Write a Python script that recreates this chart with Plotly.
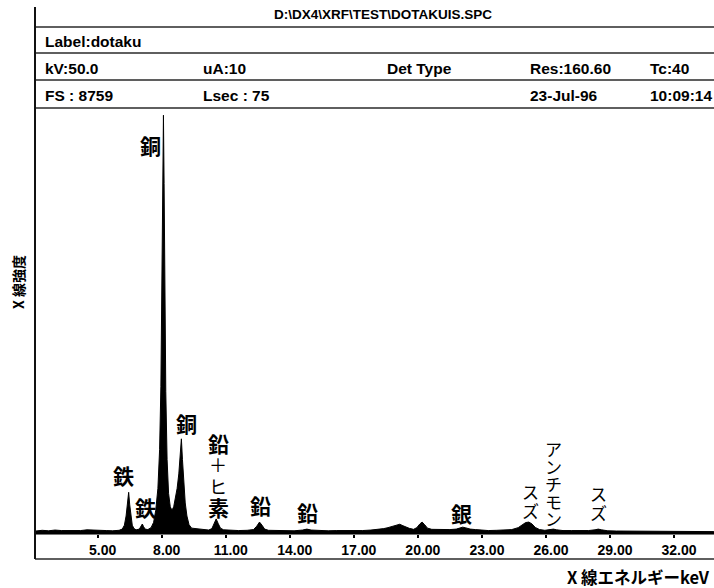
import plotly.graph_objects as go

# ---------------- data ----------------
energy_kev = [2.10, 2.40, 2.70, 3.00, 3.30, 3.60, 3.90, 4.20, 4.50, 4.80,
              5.10, 5.40, 5.70, 6.00, 6.15, 6.25, 6.33, 6.40, 6.45, 6.50,
              6.56, 6.62, 6.70, 6.80, 6.95, 7.03, 7.09, 7.15, 7.22, 7.35,
              7.50, 7.62, 7.72, 7.82, 7.90, 7.96, 8.01, 8.05, 8.08, 8.11,
              8.14, 8.19, 8.25, 8.32, 8.40, 8.48, 8.56, 8.64, 8.72, 8.80,
              8.86, 8.92, 8.97, 9.03, 9.10, 9.18, 9.28, 9.40, 9.55, 9.70,
              9.85, 10.00, 10.20, 10.35, 10.45, 10.55, 10.65, 10.75, 10.90, 11.20,
              11.60, 12.00, 12.30, 12.45, 12.58, 12.70, 12.82, 13.00, 13.40, 13.80,
              14.20, 14.60, 14.80, 15.00, 15.40, 15.80, 16.20, 16.60, 17.00, 17.40,
              17.80, 18.10, 18.40, 18.60, 18.80, 19.00, 19.15, 19.30, 19.45, 19.60,
              19.80, 19.95, 20.10, 20.20, 20.32, 20.45, 20.65, 20.90, 21.20, 21.50,
              21.80, 22.00, 22.10, 22.25, 22.45, 22.70, 23.00, 23.30, 23.70, 24.10,
              24.40, 24.70, 24.90, 25.05, 25.20, 25.35, 25.50, 25.70, 25.95, 26.20,
              26.35, 26.50, 26.80, 27.20, 27.60, 28.00, 28.30, 28.45, 28.60, 28.90,
              29.30, 29.80, 30.30, 30.80, 31.30, 31.80, 32.30, 32.80, 33.30, 33.87]
counts = [20, 35, 25, 40, 30, 25, 35, 30, 45, 35,
          25, 30, 25, 35, 60, 140, 330, 560, 820, 560,
          300, 140, 70, 45, 60, 110, 165, 110, 60, 50,
          90, 200, 450, 900, 1700, 3000, 5200, 7400, 8610, 7200,
          5000, 2900, 1500, 800, 520, 450, 520, 700, 900, 1200,
          1500, 1925, 1500, 1000, 600, 330, 150, 80, 70, 75,
          60, 45, 40, 70, 160, 270, 170, 80, 45, 35,
          30, 35, 50, 120, 205, 140, 60, 35, 30, 30,
          25, 40, 60, 40, 30, 25, 30, 25, 30, 30,
          40, 50, 70, 90, 115, 135, 160, 130, 100, 75,
          55, 90, 170, 205, 150, 80, 55, 50, 45, 50,
          60, 85, 100, 85, 60, 50, 40, 30, 35, 40,
          50, 90, 150, 195, 205, 165, 95, 50, 35, 50,
          60, 45, 30, 30, 25, 30, 45, 60, 45, 25,
          20, 20, 15, 15, 12, 12, 10, 10, 8, 8]
tick_vals = [5, 8, 11, 14, 17, 20, 23, 26, 29, 32]
tick_text = ["5.00", "8.00", "11.00", "14.00", "17.00", "20.00", "23.00", "26.00", "29.00", "32.00"]
full_scale = 8759
x_range = [2.109, 33.874]

title_text = "D:\\DX4\\XRF\\TEST\\DOTAKUIS.SPC"
label_text = "Label:dotaku"
row_kv = ["kV:50.0", "uA:10", "Det Type", "Res:160.60", "Tc:40"]
row_fs = ["FS : 8759", "Lsec : 75", "", "23-Jul-96", "10:09:14"]
y_title = "X 線強度"
x_title = "X 線エネルギーkeV"

# peak labels: text, energy (keV), counts of the lowest character
peak_labels = [
    ("銅", 7.45, 7995),
    ("銅", 9.18, 2252),
    ("鉄", 6.23, 1178),
    ("鉄", 7.22, 516),
    ("鉛＋ヒ素", 10.64, 516),
    ("鉛", 12.65, 558),
    ("鉛", 14.81, 413),
    ("銀", 22.03, 393),
    ("スズ", 25.30, 454),
    ("アンチモン", 26.37, 269),
    ("スズ", 28.47, 413),
]

# ---------------- figure ----------------
W, H = 714, 588
def PX(px):
    return px / W
def PY(py):
    return 1 - py / H

LAT = "Liberation Sans, Arial, sans-serif"
CJK = "Noto Sans CJK JP, sans-serif"

fig = go.Figure()
fig.add_trace(go.Scatter(
    x=energy_kev, y=counts, mode="lines", fill="tozeroy",
    line=dict(color="black", width=1), fillcolor="black",
    hoverinfo="skip", showlegend=False))

shapes = []
line_col = "#2a2a2a"
for py in [27, 53, 80, 108]:
    shapes.append(dict(type="line", xref="paper", yref="paper",
                       x0=PX(35), x1=1, y0=PY(py), y1=PY(py),
                       line=dict(color=line_col, width=1.5)))
shapes.append(dict(type="line", xref="paper", yref="paper",
                   x0=PX(35), x1=1, y0=PY(559), y1=PY(559),
                   line=dict(color=line_col, width=1.5)))
shapes.append(dict(type="line", xref="paper", yref="paper",
                   x0=PX(36), x1=1, y0=PY(534.5), y1=PY(534.5),
                   line=dict(color="#777777", width=1)))
shapes.append(dict(type="line", xref="paper", yref="paper",
                   x0=PX(35), x1=PX(35), y0=PY(7), y1=PY(559),
                   line=dict(color="#111111", width=2)))

ann = []
def hdr(text, px, py, size=15.5, anchor="left"):
    ann.append(dict(text="<b>%s</b>" % text, x=PX(px), y=PY(py), xref="paper", yref="paper",
                    xanchor=anchor, yanchor="middle", showarrow=False,
                    font=dict(family=LAT, size=size, color="black")))

hdr(title_text, 383, 14, size=13.5, anchor="center")
hdr(label_text, 43, 41)
cols = [43, 201, 385, 528, 648]
for c, t in zip(cols, row_kv):
    if t:
        hdr(t, c, 68)
for c, t in zip(cols, row_fs):
    if t:
        hdr(t, c, 96)

# axis titles
ann.append(dict(text="<b>%s</b>" % y_title, x=PX(18), y=PY(282), xref="paper", yref="paper",
                xanchor="center", yanchor="middle", showarrow=False, textangle=-90,
                font=dict(family=CJK, size=14, color="black")))
ann.append(dict(text="<b>%s</b>" % x_title, x=PX(712), y=PY(577), xref="paper", yref="paper",
                xanchor="right", yanchor="middle", showarrow=False,
                font=dict(family=CJK, size=16.5, color="black")))

# peak labels (multi-character labels are written vertically, one glyph per step)
for text, kev, cnt in peak_labels:
    chars = list(text)
    for i, ch in enumerate(reversed(chars)):
        if text == "鉛＋ヒ素":
            step = 21.5
            size = 21 if ch in "鉛素" else 18
            bold = ch in "鉛素"
        elif len(chars) > 1:
            step = 17.5 if text == "アンチモン" else 18.5
            size = 17
            bold = False
        else:
            step = 0
            size = 21
            bold = True
        ann.append(dict(text=("<b>%s</b>" % ch) if bold else ch, x=kev, y=cnt,
                        xref="x", yref="y", xanchor="center", yanchor="middle",
                        yshift=i * step, showarrow=False,
                        font=dict(family=CJK, size=size, color="black")))

fig.update_layout(
    width=W, height=H, margin=dict(l=0, r=0, t=0, b=0),
    paper_bgcolor="white", plot_bgcolor="white",
    showlegend=False, hovermode=False,
    shapes=shapes, annotations=ann,
    xaxis=dict(domain=[PX(36), 1], range=x_range, tickvals=tick_vals, ticktext=tick_text,
               ticks="outside", ticklen=4, tickwidth=1.5, tickcolor="black",
               showline=True, linecolor="black", linewidth=1.5,
               showgrid=False, zeroline=False, ticklabelshift=5, ticklabelstandoff=0,
               tickfont=dict(family=LAT, size=14, color="black", weight="bold")),
    yaxis=dict(domain=[PY(532), PY(108)], range=[0, full_scale], visible=False,
               showgrid=False, zeroline=False),
)

fig.write_html("out.html")
